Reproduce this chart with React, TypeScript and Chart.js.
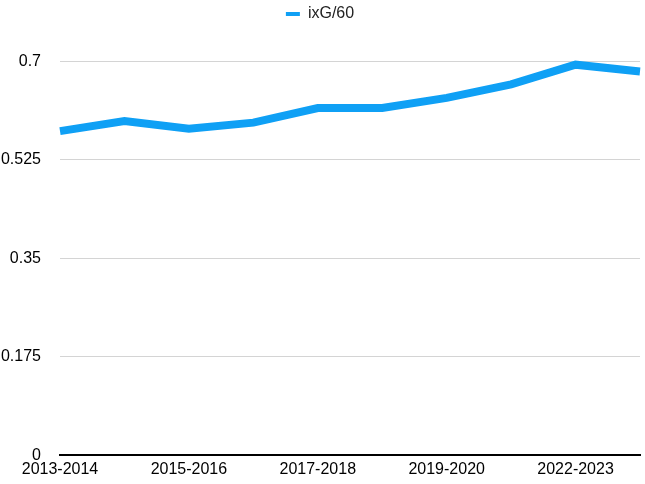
import React, { useEffect, useRef } from "react";
import { Chart, registerables } from "chart.js";

Chart.register(...registerables);

const seasons = [
  "2013-2014",
  "2014-2015",
  "2015-2016",
  "2016-2017",
  "2017-2018",
  "2018-2019",
  "2019-2020",
  "2020-2021",
  "2022-2023",
  "2023-2024",
];
const ixG60 = [0.576, 0.594, 0.58, 0.591, 0.617, 0.617, 0.635, 0.659, 0.694, 0.682];
const yTicks = [0, 0.175, 0.35, 0.525, 0.7];
const seriesName = "ixG/60";

export default function App() {
  const ref = useRef<HTMLCanvasElement | null>(null);
  useEffect(() => {
    if (!ref.current) return;
    const font = { family: "'Liberation Sans', Arial, Helvetica, sans-serif", size: 16 };
    const chart = new Chart(ref.current, {
      type: "line",
      data: {
        labels: seasons,
        datasets: [
          {
            label: seriesName,
            data: ixG60,
            borderColor: "#0fa0f5",
            backgroundColor: "#0fa0f5",
            borderWidth: 8,
            pointRadius: 0,
            tension: 0,
            borderCapStyle: "butt",
            borderJoinStyle: "miter",
          },
        ],
      },
      options: {
        animation: false,
        responsive: false,
        maintainAspectRatio: false,
        layout: { padding: { left: 0, right: 5, top: 0, bottom: 0 } },
        plugins: {
          tooltip: { enabled: false },
          legend: {
            display: true,
            position: "top",
            labels: {
              usePointStyle: true,
              pointStyle: "line",
              pointStyleWidth: 14,
              boxHeight: 4,
              color: "#222",
              font,
              padding: 6,
              generateLabels: (c: any) => {
                const items = Chart.defaults.plugins.legend.labels.generateLabels(c);
                return items.map((it: any) => ({ ...it, lineWidth: 4, pointStyle: "line" }));
              },
            },
          },
        },
        scales: {
          x: {
            offset: false,
            grid: { display: false, drawTicks: false },
            border: { display: true, color: "#000", width: 2 },
            ticks: {
              color: "#000",
              font,
              maxRotation: 0,
              autoSkip: false,
              padding: 5,
              callback: (_v: any, i: number) => (i % 2 === 0 ? seasons[i] : ""),
            },
            afterFit: (s: any) => {
              s.height = 26;
            },
          },
          y: {
            min: 0,
            max: 0.752,
            grid: { color: "#d4d4d4", lineWidth: 1, drawTicks: false },
            border: { display: false },
            afterBuildTicks: (s: any) => {
              s.ticks = yTicks.map((v) => ({ value: v }));
            },
            ticks: {
              color: "#000",
              font,
              padding: 19,
              callback: (v: any) => String(v),
            },
            afterFit: (s: any) => {
              s.width = 60;
            },
          },
        },
      },
    });
    return () => chart.destroy();
  }, []);
  return (
    <div style={{ position: "fixed", left: 0, top: 0, width: 645, height: 484 }}>
      <canvas ref={ref} width={645} height={484} style={{ width: 645, height: 484 }} />
    </div>
  );
}
